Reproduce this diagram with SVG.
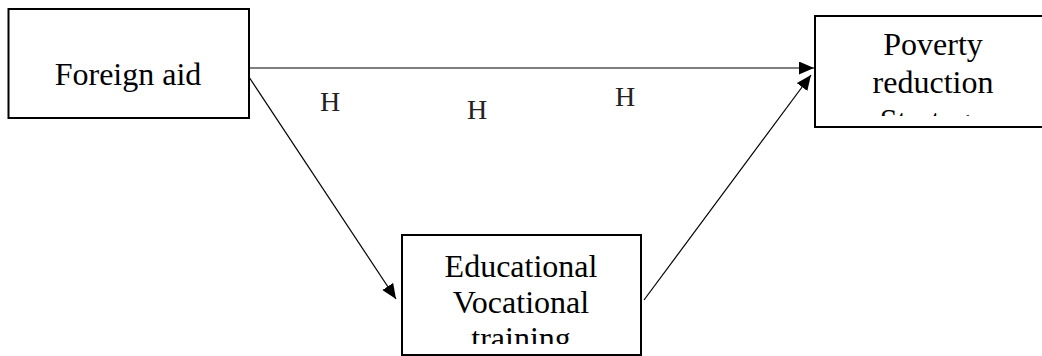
<svg xmlns="http://www.w3.org/2000/svg" width="1042" height="356" viewBox="0 0 1042 356">
<style>
.box{fill:#fff;stroke:#000;stroke-width:2}
.t{font-family:"Liberation Serif","Times New Roman",serif;font-size:32px;fill:#000;text-anchor:middle}
.h{font-family:"Liberation Serif","Times New Roman",serif;font-size:28px;fill:#222;text-anchor:middle}
.c{stroke:#000;stroke-width:1.2;fill:none}
</style>
<defs>
<marker id="arr" markerUnits="userSpaceOnUse" markerWidth="16" markerHeight="14" refX="15" refY="6.5" orient="auto">
<path d="M0,0 L15,6.5 L0,13 z" fill="#000"/>
</marker>
<clipPath id="clipP"><rect x="816" y="17" width="240" height="99"/></clipPath>
<clipPath id="clipE"><rect x="403" y="236" width="237" height="108"/></clipPath>
</defs>
<rect width="1042" height="356" fill="#fff"/>
<g id="connectors">
<line class="c" x1="249" y1="68" x2="814" y2="68" marker-end="url(#arr)"/>
<line class="c" x1="249" y1="77" x2="396" y2="299" marker-end="url(#arr)"/>
<line class="c" x1="644" y1="300" x2="811" y2="75" marker-end="url(#arr)"/>
</g>
<g id="labels">
<text class="h" x="330" y="111">H</text>
<text class="h" x="477" y="119">H</text>
<text class="h" x="625" y="106">H</text>
</g>
<g id="foreign-aid">
<rect class="box" x="8.5" y="9" width="240.5" height="109"/>
<text class="t" x="128" y="85">Foreign aid</text>
</g>
<g id="poverty-reduction">
<rect class="box" x="815" y="16" width="240" height="111"/>
<g clip-path="url(#clipP)">
<text class="t" x="933" y="55">Poverty</text>
<text class="t" x="933" y="93">reduction</text>
<text class="t" x="933" y="131">Strategy</text>
</g>
</g>
<g id="educational">
<rect class="box" x="402" y="235" width="239" height="120"/>
<g clip-path="url(#clipE)">
<text class="t" x="521" y="277">Educational</text>
<text class="t" x="521" y="313">Vocational</text>
<text class="t" x="521" y="349">training</text>
</g>
</g>
</svg>
